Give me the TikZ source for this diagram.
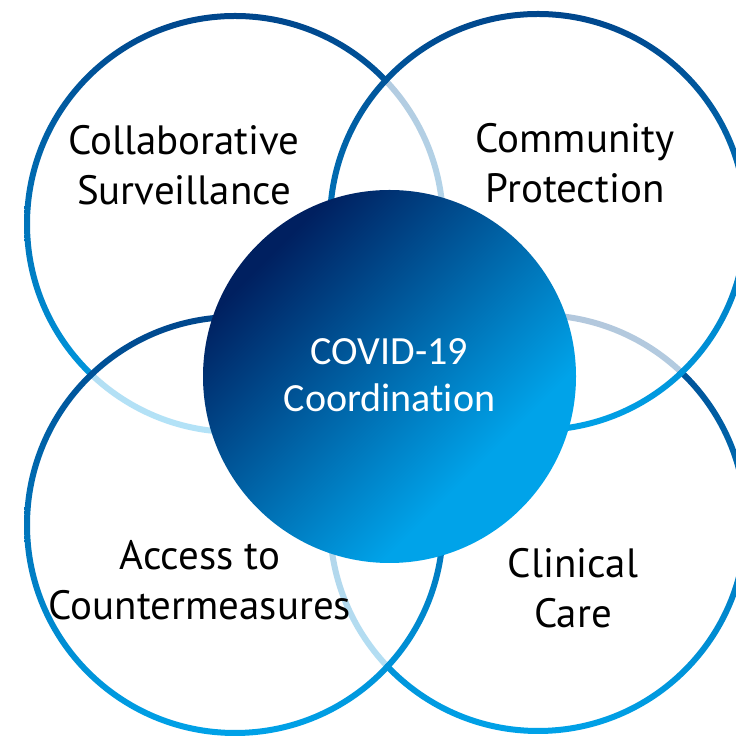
\documentclass[tikz,border=0pt]{standalone}
\usepackage{fontspec}
\setmainfont{PT Sans}
\newfontfamily\hubfont[Ligatures=NoCommon]{Carlito}
\definecolor{ringtop}{HTML}{00468C}
\definecolor{ringbot}{HTML}{00A2E8}
\definecolor{hubdark}{HTML}{002060}
\definecolor{hublight}{HTML}{00A3E9}
% diagonal fill of the hub: dark corner, quick run to bright blue
\pgfdeclarehorizontalshading{hubshade}{100bp}{color(0bp)=(hubdark);
  color(27bp)=(hubdark); color(67bp)=(hublight); color(100bp)=(hublight)}

\begin{document}
\begin{tikzpicture}[x=0.75pt,y=0.75pt,
  pillar/.style={anchor=base,inner sep=0pt,align=center,text=black,
    font=\fontsize{30.7}{37.5}\selectfont},
  hubtext/.style={anchor=base,inner sep=0pt,align=center,text=white,
    font=\hubfont\fontsize{30}{35.25}\selectfont}]
\useasboundingbox (0,0) rectangle (735,737);

% centres of the four pillar circles and the hub
\coordinate (surv) at (235,513);
\coordinate (care) at (538,214);
\coordinate (access) at (235,212);
\coordinate (prot) at (538,515);
\coordinate (hub) at (389.5,360.5);

% pillar rings, each one veiling the rings beneath it
\foreach \c in {surv,care,access,prot}{
  \fill[white,opacity=0.7] (\c) circle[radius=205];
  \shade[top color=ringtop,bottom color=ringbot,even odd rule]
    (\c) circle[radius=211] (\c) circle[radius=205];
}

% hub disc
\shade[shading=hubshade,shading angle=-45] (hub) circle[radius=186.5];

% labels (base = baseline of the last line)
\node[pillar] (survlabel) at (184,532) {Collaborative\\Surveillance};
\node[pillar] (protlabel) at (575,534) {Community\\Protection};
\node[pillar] (accesslabel) at (200,117) {Access to\\Countermeasures};
\node[pillar] (carelabel) at (573,109) {Clinical\\Care};
\node[hubtext] (hublabel) at (389.5,325) {COVID-19\\Coordination};
\end{tikzpicture}
\end{document}
